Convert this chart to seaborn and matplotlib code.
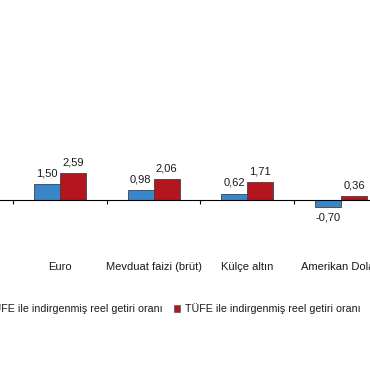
import numpy as np
import pandas as pd
import matplotlib
matplotlib.use("Agg")
import matplotlib.pyplot as plt
import seaborn as sns

# categories and the two real-return series
categories = ["Euro", "Mevduat faizi (brüt)", "Külçe altın", "Amerikan Doları"]
ufe_values = [1.50, 0.98, 0.62, -0.70]
tufe_values = [2.59, 2.06, 1.71, 0.36]
series_names = ["Yİ-ÜFE ile indirgenmiş reel getiri oranı",
                "TÜFE ile indirgenmiş reel getiri oranı"]

df = pd.DataFrame({
    "kategori": categories * 2,
    "deger": ufe_values + tufe_values,
    "seri": [series_names[0]] * 4 + [series_names[1]] * 4,
})

sns.set_style("white")
plt.rcParams["font.family"] = ["Liberation Sans", "DejaVu Sans"]
plt.rcParams["font.size"] = 8

fig = plt.figure(figsize=(3.7, 3.8), dpi=100)
ax = fig.add_axes([0, 1 - 240 / 380, 1, 140 / 380])

colors = ["#3a86cb", "#b3161e"]
sns.barplot(data=df, x="kategori", y="deger", hue="seri", order=categories,
            hue_order=series_names, palette=colors, width=0.555, gap=0,
            edgecolor="#404040", linewidth=0.6, saturation=1, ax=ax)

for cont, vals in zip(ax.containers, [ufe_values, tufe_values]):
    labels = [f"{v:.2f}".replace(".", ",") for v in vals]
    ax.bar_label(cont, labels=labels, padding=4, fontsize=8, color="#1a1a1a")

ax.set_xlabel("")
ax.set_ylabel("")
ax.set_yticks([])
for s in ["top", "right", "left"]:
    ax.spines[s].set_visible(False)
ax.spines["bottom"].set_position(("data", 0))
ax.spines["bottom"].set_color("#000000")
ax.spines["bottom"].set_linewidth(0.8)

ax.set_xticks(np.arange(-0.5, 4, 1))
ax.set_xticklabels([])
ax.tick_params(axis="x", which="major", bottom=True, direction="out",
               length=3, width=0.8, color="#000000")
ax.set_xticks(range(len(categories)), minor=True)
ax.set_xticklabels(categories, minor=True, fontsize=8, color="#1a1a1a")
ax.tick_params(axis="x", which="minor", bottom=True, length=0, pad=45)

# limits last, set_xticks would widen them
ax.set_xlim(-0.64, 3.31)
ax.set_ylim(-3.85, 9.62)

ax.legend_.remove()
handles = [plt.Rectangle((0, 0), 1, 1, facecolor=c, edgecolor="#555555", linewidth=0.5) for c in colors]
fig.legend(handles, series_names, loc="center right", ncol=2,
           bbox_to_anchor=(1.0, 1 - 308 / 380), frameon=False,
           handlelength=0.6, handleheight=0.6, handletextpad=0.4,
           columnspacing=1.1, fontsize=7.7, labelcolor="#1a1a1a")

fig.savefig("out.png", dpi=100)
